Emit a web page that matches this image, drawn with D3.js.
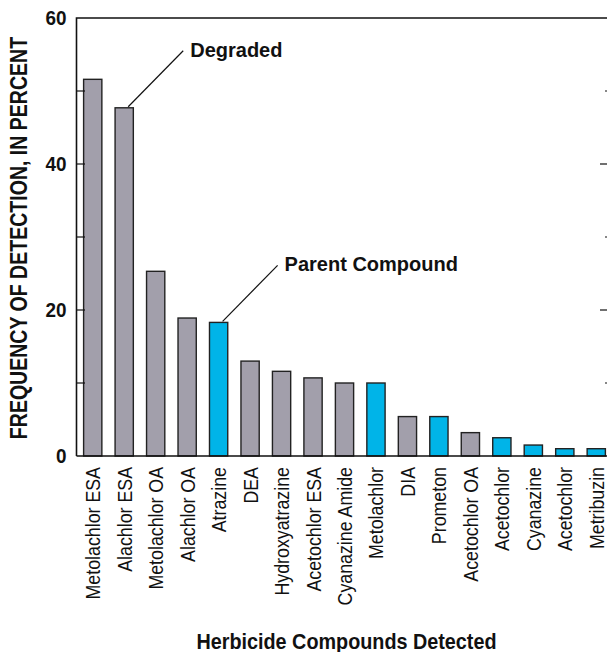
<!DOCTYPE html>
<html>
<head>
<meta charset="utf-8">
<script src="https://cdn.jsdelivr.net/npm/d3@7"></script>
<style>
  body { margin: 0; background: #fff; }
  svg text { font-family: "Liberation Sans", Arial, sans-serif; }
</style>
</head>
<body>
<div id="chart"></div>
<script>
// Data
const compounds = ["Metolachlor ESA", "Alachlor ESA", "Metolachlor OA", "Alachlor OA", "Atrazine",
  "DEA", "Hydroxyatrazine", "Acetochlor ESA", "Cyanazine Amide", "Metolachlor", "DIA",
  "Prometon", "Acetochlor OA", "Acetochlor", "Cyanazine", "Acetochlor", "Metribuzin"];
const frequency = [51.6, 47.7, 25.3, 18.9, 18.3, 13.0, 11.6, 10.7, 10.0, 10.0, 5.4, 5.4, 3.2, 2.5, 1.5, 1.0, 1.0];
const kind = ["degraded", "degraded", "degraded", "degraded", "parent", "degraded", "degraded",
  "degraded", "degraded", "parent", "degraded", "parent", "degraded", "parent", "parent", "parent", "parent"];
const majorTicks = [0, 20, 40, 60];
const minorTicks = [10, 30, 50];

const data = compounds.map((c, i) => ({ id: i, name: c, value: frequency[i], kind: kind[i] }));

const width = 607, height = 652;
const plotLeft = 77, plotRight = 612, plotTop = 18, plotBottom = 456;

const svg = d3.select("#chart").append("svg")
    .attr("width", width)
    .attr("height", height);

const x = d3.scaleBand()
    .domain(data.map(d => d.id))
    .range([plotLeft, plotRight])
    .paddingInner(0.42)
    .paddingOuter(0.21);

const y = d3.scaleLinear().domain([0, 60]).range([plotBottom, plotTop]);

const color = d3.scaleOrdinal()
    .domain(["degraded", "parent"])
    .range(["#a29fab", "#00b4e8"]);

// Bars
svg.selectAll("rect.bar")
    .data(data)
    .enter()
    .append("rect")
    .attr("class", "bar")
    .attr("x", d => x(d.id))
    .attr("y", d => y(d.value))
    .attr("width", x.bandwidth())
    .attr("height", d => y(0) - y(d.value))
    .attr("fill", d => color(d.kind))
    .attr("stroke", "#222")
    .attr("stroke-width", 1.4);

// Frame
svg.append("path")
    .attr("d", `M${plotLeft - 0.5},${plotBottom}V${plotTop}H${plotRight}V${plotBottom}H${plotLeft - 0.5}`)
    .attr("fill", "none")
    .attr("stroke", "#111")
    .attr("stroke-width", 1.6);

// Left axis (labels only, condensed look via scaleX)
const leftAxis = d3.axisLeft(y).tickValues(majorTicks).tickSize(0).tickPadding(0);
const gl = svg.append("g").attr("transform", `translate(${plotLeft - 0.5},0)`).call(leftAxis);
gl.select(".domain").remove();
gl.selectAll("text")
    .attr("x", -10 / 0.9)
    .attr("transform", "scale(0.9,1)")
    .attr("font-size", 21)
    .attr("font-weight", "bold")
    .attr("fill", "#111");

const innerTicks = majorTicks.slice(1, 3).concat(minorTicks);

// Inner ticks (left)
svg.selectAll("line.ltick")
    .data(innerTicks)
    .enter()
    .append("line")
    .attr("x1", plotLeft)
    .attr("x2", plotLeft + 8)
    .attr("y1", d => y(d))
    .attr("y2", d => y(d))
    .attr("stroke", "#111")
    .attr("stroke-width", 1.2);

// Inner ticks (right)
svg.selectAll("line.rtick")
    .data(innerTicks)
    .enter()
    .append("line")
    .attr("x1", plotRight)
    .attr("x2", d => majorTicks.includes(d) ? plotRight - 12 : plotRight - 7)
    .attr("y1", d => y(d))
    .attr("y2", d => y(d))
    .attr("stroke", "#111")
    .attr("stroke-width", 1.2);

// Category labels
svg.selectAll("text.cat")
    .data(data)
    .enter()
    .append("text")
    .attr("class", "cat")
    .attr("transform", d => `translate(${x(d.id) + x.bandwidth() / 2 + 7.5},${plotBottom + 11}) rotate(-90) scale(0.89,1)`)
    .attr("text-anchor", "end")
    .attr("font-size", 20)
    .attr("fill", "#111")
    .text(d => d.name);

// Axis titles
svg.append("text")
    .attr("transform", `translate(27,${(plotTop + plotBottom) / 2 + 1}) rotate(-90) scale(0.85,1)`)
    .attr("text-anchor", "middle")
    .attr("font-size", 23)
    .attr("font-weight", "bold")
    .attr("fill", "#111")
    .text("FREQUENCY OF DETECTION, IN PERCENT");

svg.append("text")
    .attr("transform", `translate(${(plotLeft + plotRight) / 2 + 2},649) scale(0.9,1)`)
    .attr("text-anchor", "middle")
    .attr("font-size", 22)
    .attr("font-weight", "bold")
    .attr("fill", "#111")
    .text("Herbicide Compounds Detected");

// Annotations
const notes = [
  { text: "Degraded", id: 1 },
  { text: "Parent Compound", id: 4 }
];
notes.forEach(n => {
  const d = data[n.id];
  const x0 = x(d.id) + x.bandwidth() / 2 + 4;
  const y0 = y(d.value) - 1;
  svg.append("line")
      .attr("x1", x0).attr("y1", y0)
      .attr("x2", x0 + 55).attr("y2", y0 - 56)
      .attr("stroke", "#111")
      .attr("stroke-width", 1.2);
  svg.append("text")
      .attr("x", x0 + 62)
      .attr("y", y0 - 50)
      .attr("font-size", 20)
      .attr("font-weight", "bold")
      .attr("fill", "#111")
      .text(n.text);
});
</script>
</body>
</html>
